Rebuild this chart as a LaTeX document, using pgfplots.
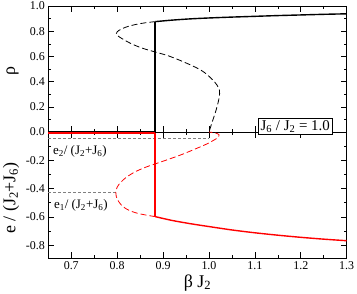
\documentclass[border=0pt]{standalone}
\usepackage{pgfplots}
\pgfplotsset{compat=1.18}
\usepackage{fontspec}
\setmainfont{Liberation Serif}
\begin{document}
\begin{tikzpicture}
\path[use as bounding box] (-48.3bp,-162bp) rectangle (308.7bp,132bp);
\pgfplotsset{
  common/.style={
    width=298.4bp, height=126bp, scale only axis,
    xmin=0.65, xmax=1.3,
    xtick={0.7,0.8,0.9,1.0,1.1,1.2,1.3},
    minor xtick={0.65,0.75,0.85,0.95,1.05,1.15,1.25},
    tick align=inside, major tick length=6bp, minor tick length=3bp,
    every tick/.style={black, line width=0.6pt},
    axis line style={line width=0.8pt},
    tick label style={font=\fontsize{12}{12}\selectfont},
    clip=false,
  }
}
% ---------------- top panel: rho ----------------
\begin{axis}[common, at={(0,0)}, anchor=south west,
  ymin=0, ymax=1,
  ytick={0,0.2,0.4,0.6,0.8,1.0},
  yticklabels={0.0,0.2,0.4,0.6,0.8,1.0},
  minor ytick={0.1,0.3,0.5,0.7,0.9},
  xticklabels={},
  ylabel={ρ},
  ylabel style={at={(axis description cs:-0.120,0.48)}, anchor=center, font=\fontsize{18}{18}\selectfont},
]
\addplot[black, line width=1.4pt] coordinates {(0.65,0.005) (0.883,0.005)};
\addplot[black, line width=1.6pt] coordinates {(0.883,0.0) (0.883,0.876)};
\addplot[black, line width=1.4pt, smooth] coordinates {
(0.883,0.876) (0.92,0.888) (0.96,0.898) (1.0,0.905) (1.05,0.912) (1.1,0.918)
(1.15,0.924) (1.2,0.929) (1.25,0.934) (1.3,0.938)};
\addplot[black, line width=0.8pt, dash pattern=on 6bp off 3bp, smooth, tension=0.6] coordinates {
(0.883,0.876) (0.860,0.866) (0.840,0.853) (0.822,0.836) (0.808,0.815) (0.800,0.795)
(0.798,0.780) (0.802,0.762) (0.812,0.738) (0.830,0.702) (0.855,0.665) (0.883,0.635)
(0.915,0.600) (0.955,0.540) (0.985,0.485) (1.005,0.425) (1.018,0.370) (1.023,0.330)
(1.022,0.270) (1.016,0.180) (1.008,0.090) (1.000,0.000)};
\end{axis}
% ---------------- bottom panel: energy ----------------
\begin{axis}[common, at={(0,0)}, anchor=north west,
  ymin=-0.89, ymax=0,
  ytick={-0.8,-0.6,-0.4,-0.2},
  yticklabels={-0.8,-0.6,-0.4,-0.2},
  minor ytick={-0.7,-0.5,-0.3,-0.1},
  xticklabels={0.7,0.8,0.9,1.0,1.1,1.2,1.3},
  xlabel={β J\textsubscript{2}},
  xlabel style={at={(axis description cs:0.5,-0.198)}, anchor=center, font=\fontsize{18}{18}\selectfont},
  ylabel={e / (J\textsubscript{2}+J\textsubscript{6})},
  ylabel style={at={(axis description cs:-0.125,0.476)}, anchor=center, font=\fontsize{18}{18}\selectfont},
]
\addplot[gray, line width=0.6pt, dash pattern=on 3bp off 2bp] coordinates {(0.65,-0.045) (1.0,-0.045)};
\addplot[gray, line width=0.6pt, dash pattern=on 3bp off 2bp] coordinates {(0.65,-0.426) (0.797,-0.426)};
\addplot[red, line width=1.4pt] coordinates {(0.65,-0.008) (0.883,-0.008)};
\addplot[red, line width=1.6pt] coordinates {(0.883,-0.008) (0.883,-0.598)};
\addplot[red, line width=1.4pt, smooth] coordinates {
(0.883,-0.598) (0.92,-0.625) (0.96,-0.648) (1.0,-0.668) (1.05,-0.692) (1.1,-0.712)
(1.15,-0.729) (1.2,-0.744) (1.25,-0.757) (1.3,-0.768)};
\addplot[red, line width=0.8pt, dash pattern=on 6bp off 3bp, smooth, tension=0.6] coordinates {
(0.883,-0.598) (0.860,-0.585) (0.842,-0.572) (0.825,-0.552) (0.812,-0.525) (0.803,-0.490)
(0.798,-0.455) (0.797,-0.426) (0.800,-0.390) (0.808,-0.355) (0.820,-0.320) (0.840,-0.280)
(0.865,-0.245) (0.883,-0.225) (0.910,-0.195) (0.940,-0.160) (0.970,-0.120) (0.995,-0.085)
(1.012,-0.055) (1.021,-0.035) (1.022,-0.020) (1.015,-0.008) (1.000,0.000)};
\node[anchor=west, inner sep=0pt, font=\fontsize{13}{13}\selectfont] at (axis cs:0.660,-0.137)
  {e\textsubscript{2}/ (J\textsubscript{2}+J\textsubscript{6})};
\node[anchor=west, inner sep=0pt, font=\fontsize{13}{13}\selectfont] at (axis cs:0.662,-0.52)
  {e\textsubscript{1}/ (J\textsubscript{2}+J\textsubscript{6})};
\node[draw, fill=white, line width=0.8pt, inner xsep=2bp, inner ysep=1.8bp, font=\fontsize{15}{15}\selectfont]
  at (axis cs:1.188,0.04) {J\textsubscript{6} / J\textsubscript{2} = 1.0};
\end{axis}
\end{tikzpicture}
\end{document}
